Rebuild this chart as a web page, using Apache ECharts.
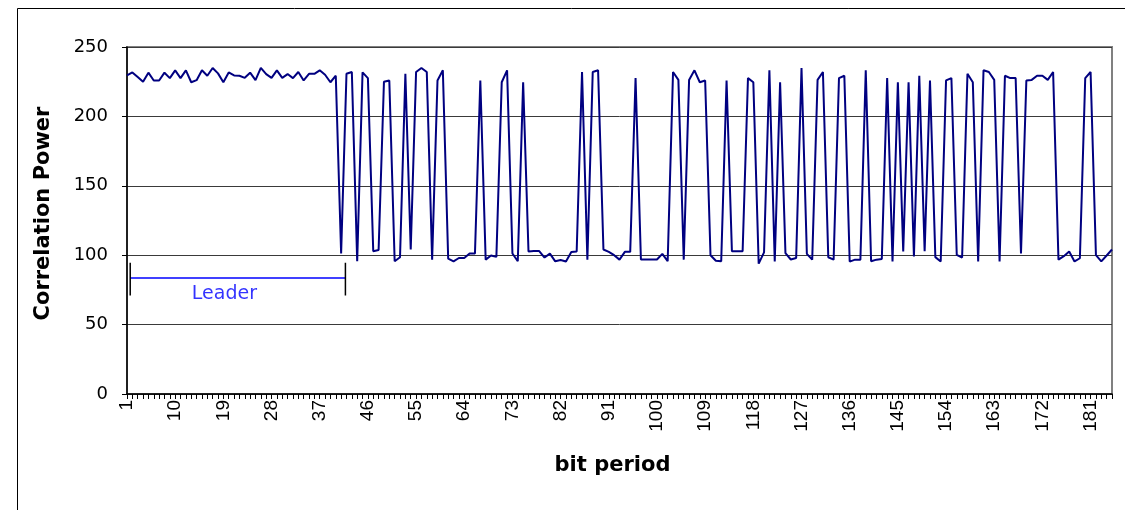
<!DOCTYPE html>
<html>
<head>
<meta charset="utf-8">
<script src="https://cdn.jsdelivr.net/npm/echarts@6/dist/echarts.min.js"></script>
<style>
html,body{margin:0;padding:0;background:#fff;}
#chart{width:1125px;height:510px;}
</style>
</head>
<body>
<div id="chart"></div>
<script>
// Correlation power per bit period
const values = [
229.5, 231.7, 228.3, 224.9, 231.5, 225.9, 225.9, 231.5, 227.6, 233.2,
227.6, 233.2, 224.6, 226.1, 233.2, 229.3, 234.9, 231.0, 224.6, 231.7,
229.5, 229.3, 227.8, 231.5, 226.1, 234.9, 230.5, 227.8, 233.2, 227.8,
230.5, 227.6, 232.0, 225.9, 230.7, 230.7, 233.2, 230.0, 224.6, 229.3,
101.2, 230.7, 232.0, 95.6, 231.7, 227.6, 102.9, 103.7, 224.9, 225.9,
95.6, 98.5, 230.7, 104.1, 232.0, 234.9, 232.0, 96.8, 225.9, 233.2,
97.5, 95.6, 98.0, 98.0, 101.2, 101.2, 225.9, 96.8, 99.8, 98.8,
224.6, 233.2, 101.2, 95.6, 224.6, 102.6, 103.0, 103.0, 98.3, 101.1,
95.6, 96.5, 95.5, 102.3, 102.6, 232.0, 96.8, 232.0, 233.2, 104.1,
102.4, 100.0, 96.8, 102.4, 102.4, 227.6, 96.9, 96.9, 96.9, 96.9,
101.0, 95.7, 232.0, 226.3, 96.8, 226.3, 233.2, 224.6, 225.9, 100.0,
96.0, 95.6, 225.9, 102.9, 102.9, 102.9, 227.6, 224.6, 93.9, 102.0,
233.2, 95.4, 224.6, 101.5, 96.9, 98.0, 234.9, 101.0, 96.8, 226.3,
232.0, 98.5, 96.8, 227.6, 229.3, 95.4, 96.8, 96.8, 233.2, 95.6,
96.8, 97.2, 227.6, 95.4, 224.6, 102.6, 224.6, 99.0, 229.3, 102.9,
225.9, 98.6, 95.5, 225.9, 227.6, 100.3, 98.3, 230.7, 224.6, 95.5,
233.2, 232.0, 226.3, 95.5, 229.3, 227.6, 227.6, 101.2, 225.9, 226.3,
229.3, 229.3, 226.3, 232.0, 96.8, 99.3, 102.6, 95.5, 97.8, 227.6,
232.0, 100.0, 95.6, 99.8, 104.1
];
const categories = values.map((_, i) => String(i + 1));
const yTicks = [0, 50, 100, 150, 200, 250];

// Leader bracket annotation (in data units)
const leaderFrom = 1.6;
const leaderTo = 41.8;
const leaderY = 83.5;
const leaderBarLow = 71;
const leaderBarHigh = 94.5;
const leaderText = 'Leader';
const leaderTextAt = [19.2, 72];

const chart = echarts.init(document.getElementById('chart'), null, {renderer: 'canvas'});
const ARIAL = 'Liberation Sans, Arial, sans-serif';
const WIDE = 'DejaVu Sans, Verdana, sans-serif';
chart.setOption({
  animation: false,
  backgroundColor: '#ffffff',
  grid: {left: 127, right: 13, top: 47, bottom: 116, show: true, borderColor: '#808080', borderWidth: 2, backgroundColor: 'transparent'},
  graphic: [{type: 'rect', shape: {x: 17.5, y: 8.5, width: 1200, height: 600}, style: {fill: 'none', stroke: '#000', lineWidth: 1}, z: -1}],
  xAxis: [{
    type: 'category', data: categories, boundaryGap: false,
    axisLine: {lineStyle: {color: '#000', width: 1.5}},
    axisTick: {interval: 0, length: 5, lineStyle: {color: '#000'}},
    axisLabel: {interval: 8, rotate: 90, fontSize: 19, fontFamily: ARIAL, color: '#000', margin: 6},
    splitLine: {show: false},
    name: 'bit period', nameLocation: 'middle', nameGap: 61,
    nameTextStyle: {fontSize: 21, fontWeight: 'bold', fontFamily: WIDE, color: '#000', padding: [0, 14, 0, 0]}
  }, {
    type: 'value', min: 1, max: values.length, show: false
  }],
  yAxis: {
    type: 'value', min: yTicks[0], max: yTicks[yTicks.length - 1], interval: 50,
    axisLine: {show: true, lineStyle: {color: '#000', width: 1.5}},
    axisTick: {show: true, length: 5, lineStyle: {color: '#000'}},
    axisLabel: {fontSize: 18, fontFamily: WIDE, color: '#000', margin: 19},
    splitLine: {lineStyle: {color: '#3a3a3a', width: 1}},
    name: 'Correlation Power', nameLocation: 'middle', nameGap: 73, nameRotate: 90,
    nameTextStyle: {fontSize: 21, fontWeight: 'bold', fontFamily: WIDE, color: '#000', padding: [0, 0, 0, 14]}
  },
  series: [{
    type: 'line', data: values, symbol: 'none', smooth: false,
    lineStyle: {color: '#000080', width: 2}, z: 3
  }, {
    type: 'line', xAxisIndex: 1, symbol: 'none',
    data: [[leaderFrom, leaderY], [leaderTo, leaderY]],
    lineStyle: {color: '#0000ff', width: 1.5}, z: 4
  }, {
    type: 'line', xAxisIndex: 1, symbol: 'none',
    data: [[leaderFrom, leaderBarLow], [leaderFrom, leaderBarHigh]],
    lineStyle: {color: '#000', width: 1.5}, z: 4
  }, {
    type: 'line', xAxisIndex: 1, symbol: 'none',
    data: [[leaderTo, leaderBarLow], [leaderTo, leaderBarHigh]],
    lineStyle: {color: '#000', width: 1.5}, z: 4
  }, {
    type: 'scatter', xAxisIndex: 1, symbolSize: 0,
    data: [leaderTextAt],
    label: {show: true, formatter: leaderText, position: 'inside', fontSize: 19, fontFamily: WIDE, color: '#0000ff'},
    z: 4
  }]
});
</script>
</body>
</html>
